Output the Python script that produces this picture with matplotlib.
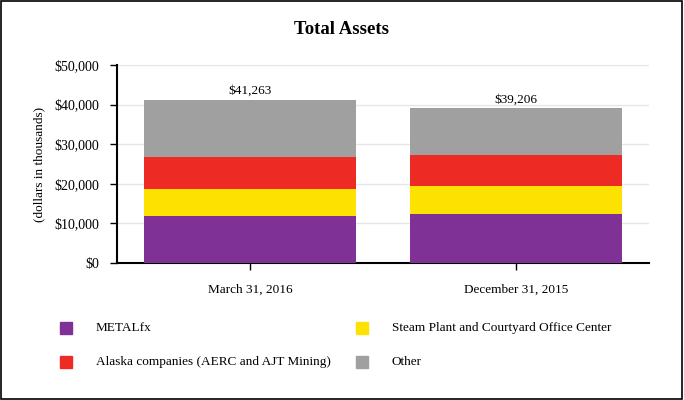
import matplotlib
matplotlib.use("Agg")
import matplotlib.pyplot as plt
from matplotlib.patches import Rectangle

# Data (dollars in thousands)
periods = ["March 31, 2016", "December 31, 2015"]
segments = ["METALfx", "Steam Plant and Courtyard Office Center",
            "Alaska companies (AERC and AJT Mining)", "Other"]
metalfx = [11930, 12350]
steam_plant = [6810, 7060]
alaska = [8060, 7980]
other = [14463, 11816]
totals = [41263, 39206]
colors = ["#7f3196", "#fde100", "#ee2a24", "#a0a0a0"]

plt.rcParams["font.family"] = ["Liberation Serif", "DejaVu Serif"]

fig = plt.figure(figsize=(6.84, 4.0), dpi=100)
ax = fig.add_axes([117 / 684, 1 - 263 / 400, 532 / 684, 198 / 400])

x = list(range(len(periods)))
bottom = [0, 0]
for vals, col in zip([metalfx, steam_plant, alaska, other], colors):
    ax.bar(x, vals, bottom=bottom, width=0.8, color=col, zorder=3)
    bottom = [b + v for b, v in zip(bottom, vals)]

for xi, t in zip(x, totals):
    ax.text(xi, t + 600, "${:,}".format(t), ha="center", va="bottom", fontsize=9.5)

ax.set_xlim(-0.5, 1.5)
ax.set_ylim(0, 50000)
ax.set_yticks(range(0, 50001, 10000))
ax.set_yticklabels(["${:,}".format(v) for v in range(0, 50001, 10000)], fontsize=10)
ax.set_xticks(x)
ax.set_xticklabels(periods, fontsize=9.5)
ax.grid(axis="y", color="#e6e6e6", linewidth=1, zorder=0)
for side in ["top", "right"]:
    ax.spines[side].set_visible(False)
for side in ["left", "bottom"]:
    ax.spines[side].set_linewidth(1.5)
ax.tick_params(axis="both", direction="out", length=5, width=1)
ax.tick_params(axis="y", pad=8)
ax.tick_params(axis="x", pad=10)
ax.set_ylabel("(dollars in thousands)", fontsize=9.5, labelpad=6)

fig.text(0.5, 1 - 29 / 400, "Total Assets", ha="center", va="center",
         fontsize=13.5, fontweight="bold")

# legend drawn manually in two columns
leg_pos = [(60, 328), (356, 328), (60, 362), (356, 362)]
for (lx, ly), name, col in zip(leg_pos, segments, colors):
    fig.patches.append(Rectangle((lx / 684, 1 - (ly + 6) / 400), 12 / 684, 12 / 400,
                                 transform=fig.transFigure, color=col))
    fig.text((lx + 36) / 684, 1 - ly / 400, name, ha="left", va="center", fontsize=9.5)

# outer border
fig.patches.append(Rectangle((0.002, 0.003), 0.995, 0.994, transform=fig.transFigure,
                             fill=False, edgecolor="black", linewidth=1.2))

plt.savefig("out.png", dpi=100)
